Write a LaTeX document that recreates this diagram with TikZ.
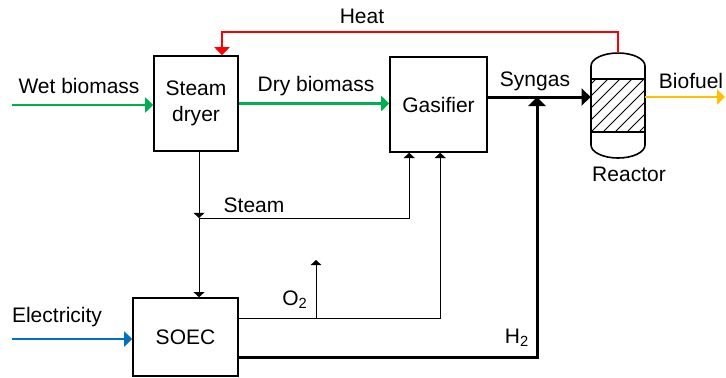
\documentclass[tikz,border=0pt]{standalone}
\usepackage{fontspec}
\setmainfont{Liberation Sans}
\usetikzlibrary{positioning, arrows.meta, calc}
\definecolor{flowgreen}{HTML}{00B050}
\definecolor{flowred}{HTML}{FF0000}
\definecolor{flowblue}{HTML}{0070C0}
\definecolor{floworange}{HTML}{FFC000}
\begin{document}
\begin{tikzpicture}[x=0.5pt, y=-0.5pt,
    every node/.style={font=\fontsize{10.5}{13}\selectfont},
    unitbox/.style={draw, line width=0.8pt, align=center, inner sep=0pt},
    label/.style={inner sep=0pt},
    thinflow/.style={line width=0.5pt, -{Triangle[length=2.6pt, width=5.5pt]}},
    thickflow/.style={line width=1.5pt, -{Triangle[length=4.5pt, width=8.5pt]}},
    greenflow/.style={flowgreen, line width=1.2pt, -{Triangle[length=4pt, width=7.5pt]}},
    redflow/.style={flowred, line width=1.2pt, -{Triangle[length=4pt, width=7.5pt]}},
    blueflow/.style={flowblue, line width=1.2pt, -{Triangle[length=4pt, width=7.5pt]}},
    orangeflow/.style={floworange, line width=1.2pt, -{Triangle[length=4pt, width=7.5pt]}}]
  \useasboundingbox (0,0) rectangle (726,377);
  % units
  \node[unitbox, minimum width=42pt, minimum height=47.5pt] (dryer) at (196,103.5) {Steam\\dryer};
  \node[unitbox, minimum width=48.5pt, minimum height=47.5pt] (gasifier) at (438.5,104.5) {Gasifier};
  \node[unitbox, minimum width=52.5pt, minimum height=39pt] (soec) at (185.5,337) {SOEC};
  \node[inner sep=0pt, minimum width=27pt, minimum height=52.5pt] (reactor) at (618,105.5) {};
  % reactor vessel
  \draw[line width=0.8pt] (591,66) -- (591,145) arc[start angle=180, end angle=360, x radius=13.5pt, y radius=6.5pt]
    -- (645,66) arc[start angle=0, end angle=180, x radius=13.5pt, y radius=6.5pt] -- cycle;
  \begin{scope}
    \clip (591,79) rectangle (645,132);
    \foreach \k in {-60,-48,...,60}
      \draw[line width=0.4pt] (591+\k,132) -- ++(60,-60);
  \end{scope}
  \draw[line width=0.8pt] (591,79) -- (645,79) (591,132) -- (645,132);
  % junctions and free ends
  \coordinate (wetin) at (12,105);
  \coordinate (elecin) at (12,339);
  \coordinate (fuelout) at (725,97);
  \coordinate (heattop) at (222,32);
  \coordinate (synj) at (537,97);
  \coordinate (steamj) at (199,218);
  \coordinate (oxj) at (316,318);
  \coordinate (oxout) at (316,260);
  \coordinate (h2c) at (537,357);
  % streams
  \draw[greenflow] (wetin) -- (wetin -| dryer.west);
  \draw[greenflow] (dryer.east) -- (gasifier.west |- dryer.east);
  \draw[redflow] (reactor.north) |- (heattop) -- (heattop |- dryer.north);
  \draw[thickflow] (synj -| gasifier.east) -- (synj -| reactor.west);
  \draw[orangeflow] (fuelout -| reactor.east) -- (fuelout);
  \draw[thinflow] (steamj |- dryer.south) -- (steamj);
  \draw[thinflow] (steamj) -- (steamj |- soec.north);
  \draw[thinflow] (steamj) -| ([xshift=10pt]gasifier.south west);
  \draw[thinflow] (soec.east |- oxj) -| ([xshift=25.5pt]gasifier.south west);
  \draw[thinflow] (oxj) -- (oxout);
  \draw[thickflow] (soec.east |- h2c) -| (synj);
  \draw[blueflow] (elecin) -- (elecin -| soec.west);
  % labels
  \node[label] (lblheat) at (362,16) {Heat};
  \node[label] (lblwet) at (79,86) {Wet biomass};
  \node[label] (lbldry) at (316,86) {Dry biomass};
  \node[label] (lblsyn) at (535,81) {Syngas};
  \node[label] (lblfuel) at (691,81) {Biofuel};
  \node[label] (lblreac) at (629,174) {Reactor};
  \node[label] (lblsteam) at (254,205) {Steam};
  \node[label] (lblox) at (295,300) {O\textsubscript{2}};
  \node[label] (lblelec) at (57,317) {Electricity};
  \node[label] (lblh2) at (517,338) {H\textsubscript{2}};
\end{tikzpicture}
\end{document}
